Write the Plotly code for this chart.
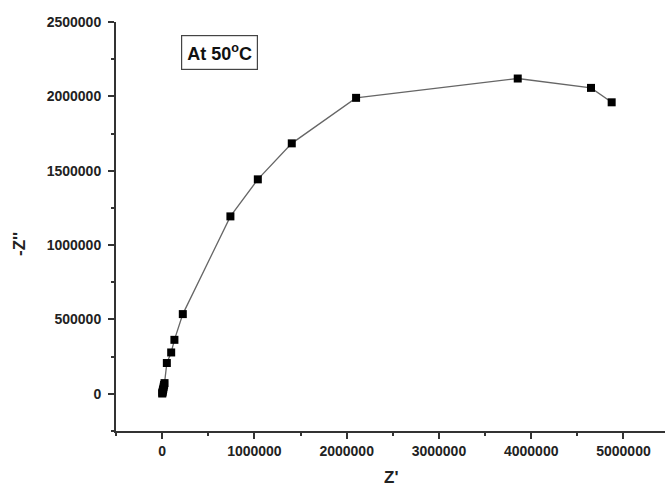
import plotly.graph_objects as go

z_real = [1000, 3000, 6000, 9000, 13000, 17000, 21000, 26000,
          51000, 98000, 133000, 224000, 740000, 1037000, 1405000,
          2102000, 3854000, 4648000, 4872000]
z_imag = [2000, 8000, 15000, 25000, 35000, 48000, 60000, 72000,
          207000, 278000, 363000, 536000, 1193000, 1442000, 1684000,
          1990000, 2120000, 2057000, 1960000]

x_ticks = [0, 1000000, 2000000, 3000000, 4000000, 5000000]
y_ticks = [0, 500000, 1000000, 1500000, 2000000, 2500000]

FONT = "Liberation Sans, Arial, sans-serif"
AX = "#333333"

fig = go.Figure()
fig.add_trace(go.Scatter(
    x=z_real, y=z_imag, mode="lines+markers",
    line=dict(color="#666666", width=1.3),
    marker=dict(symbol="square", size=8, color="#000000"),
    showlegend=False,
))

fig.update_layout(
    width=665, height=486,
    margin=dict(l=116, r=0, t=22, b=55),
    paper_bgcolor="white", plot_bgcolor="white",
    font=dict(family=FONT, color="#222222"),
    xaxis=dict(
        range=[-500000, 5450000], tickvals=x_ticks,
        ticktext=[f"<b>{v}</b>" for v in x_ticks],
        showgrid=False, zeroline=False, showline=True,
        linecolor=AX, linewidth=2, ticks="outside", ticklen=6,
        tickwidth=1.5, tickcolor=AX,
        tickfont=dict(size=14, family=FONT, color="#222222"),
        minor=dict(tickvals=[-500000, 500000, 1500000, 2500000, 3500000, 4500000],
                   ticks="outside", ticklen=3, tickcolor=AX, tickwidth=1.5),
    ),
    yaxis=dict(
        range=[-250000, 2500000], tickvals=y_ticks,
        ticktext=[f"<b>{v}</b>" for v in y_ticks],
        showgrid=False, zeroline=False, showline=True,
        linecolor=AX, linewidth=2, ticks="outside", ticklen=6,
        tickwidth=1.5, tickcolor=AX, ticklabelstandoff=4,
        tickfont=dict(size=14, family=FONT, color="#222222"),
        minor=dict(tickvals=[-250000, 250000, 750000, 1250000, 1750000, 2250000],
                   ticks="outside", ticklen=3, tickcolor=AX, tickwidth=1.5),
    ),
    annotations=[
        dict(text="<b>At 50<sup>o</sup>C</b>", xref="paper", yref="paper",
             x=(219 - 116) / 549, y=(486 - 55 - 53) / 409, xanchor="center", yanchor="middle",
             showarrow=False, font=dict(size=18, family=FONT, color="#111111"),
             bordercolor="#444444", borderwidth=1.2, borderpad=5, bgcolor="white"),
        dict(text="<b>-Z''</b>", xref="paper", yref="paper",
             x=(20 - 116) / 549, y=(431 - 244) / 409, xanchor="center", yanchor="middle",
             textangle=-90, showarrow=False,
             font=dict(size=17, family=FONT, color="#222222")),
        dict(text="<b>Z'</b>", xref="paper", yref="paper",
             x=(391 - 116) / 549, y=-(477 - 431) / 409, xanchor="center", yanchor="middle",
             showarrow=False, font=dict(size=17, family=FONT, color="#222222")),
    ],
)

fig.write_html("out.html")
